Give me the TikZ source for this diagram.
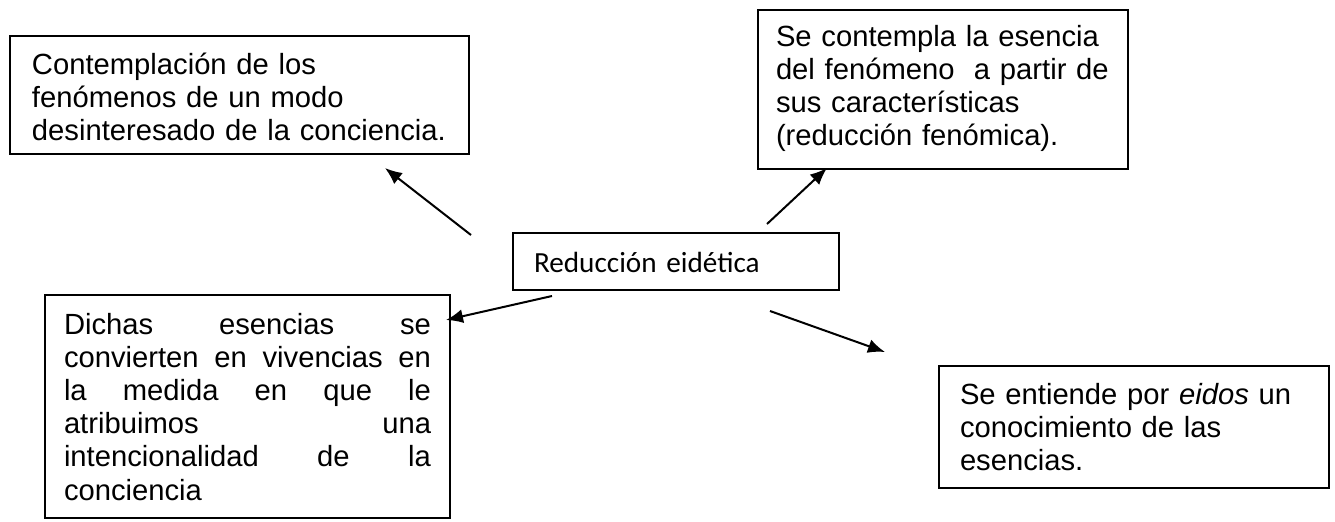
\documentclass[tikz,border=0pt]{standalone}
\usepackage{fontspec}
\setmainfont{Liberation Sans}
\newfontfamily\carlito{Carlito}
\usepackage{tikz}
\usetikzlibrary{arrows.meta}

\begin{document}
\begin{tikzpicture}[x=0.5pt,y=-0.5pt,
	box/.style={draw=black,line width=1pt,anchor=north west,align=left,inner ysep=0pt,font=\fontsize{14.6}{16.6}\selectfont},
	arr/.style={-{Latex[length=8.5pt,width=7pt]},draw=black,line width=1pt}]
	
	\useasboundingbox (0,0) rectangle (1335,521);

	\node[box,inner xsep=11pt,text width=207.5pt,text height=19pt,text depth=40pt] (cont) at (9,35) {Contemplación de los\\fenómenos de un modo\\desinteresado de la conciencia.};
	\node[box,inner xsep=9pt,text width=167pt,text height=18pt,text depth=61.5pt] (esen) at (757,9) {Se contempla la esencia\\del fenómeno\ \ a partir de\\sus características\\(reducción fenómica).};
	\node[box,inner xsep=10.5pt,text width=142pt,text height=19.5pt,text depth=9pt] (red) at (512,232) {\carlito Reducción eidética};
	\node[box,inner xsep=9.5pt,text width=183.5pt,text height=19.5pt,text depth=92pt] (viv) at (44,294) {Dichas \hfill esencias \hfill se\\convierten \hfill en \hfill vivencias \hfill en\\la \hfill medida \hfill en \hfill que \hfill le\\atribuimos \hfill una\\intencionalidad \hfill de \hfill la\\conciencia};
	\node[box,inner xsep=10.5pt,text width=174pt,text height=19pt,text depth=42pt] (eidos) at (938,365) {Se entiende por \textit{eidos} un\\conocimiento de las\\esencias.};

	\coordinate (s1) at (471,235);
	\coordinate (e1) at (385,168);
	\coordinate (s2) at (767,224);
	\coordinate (e2) at (827,168);
	\coordinate (s3) at (552,296);
	\coordinate (e3) at (446,320);
	\coordinate (s4) at (770,311);
	\coordinate (e4) at (885,352);

	\path[arr] (s1) to (e1);
	\path[arr] (s2) to (e2);
	\path[arr] (s3) to (e3);
	\path[arr] (s4) to (e4);

\end{tikzpicture}
\end{document}
